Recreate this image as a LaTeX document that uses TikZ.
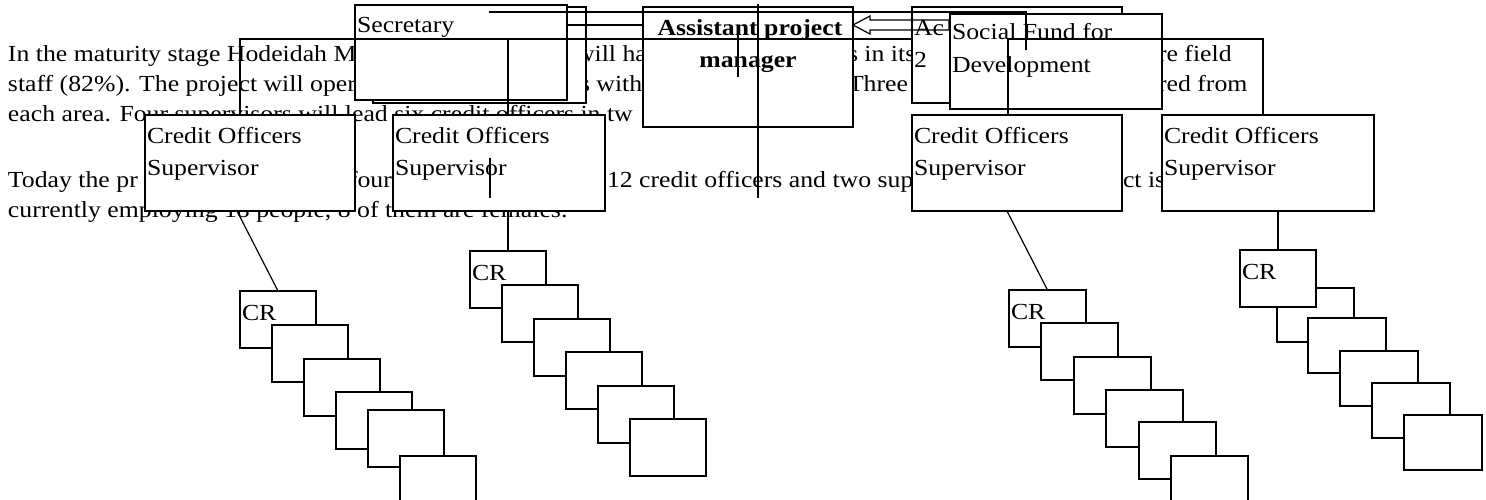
\documentclass[tikz,border=0pt]{standalone}
\usepackage{fontspec}
\setmainfont{Liberation Serif}[FakeStretch=1.12]
\usetikzlibrary{calc}
\newcommand\myfs{\fontsize{23}{30}\selectfont}
\begin{document}
\begin{tikzpicture}[x=1pt,y=-1pt,
  box/.style={draw, fill=white, line width=1.2pt, anchor=north west, inner sep=0pt, outer sep=0pt},
  txt/.style={anchor=base west, inner sep=0pt, outer sep=0pt, font=\myfs},
  btxt/.style={anchor=base, inner sep=0pt, outer sep=0pt, font=\myfs\bfseries},
  ln/.style={line width=1.2pt, line cap=rect},
  cr/.style={box, minimum width=76pt, minimum height=57pt}]
\useasboundingbox (0,0) rectangle (1486,499);
\clip (0,0) rectangle (1486,499);
% paragraph
\node[txt] (p1a) at (8,61) {In the maturity stage Hodeidah M};
\node[txt] (p1b) at (576,61) {will ha};
\node[txt] (p1c) at (848,61) {s in its};
\node[txt] (p1d) at (1158,61) {re field};
\node[txt] (p2a) at (8,91) {staff (82\%). The project will oper};
\node[txt] (p2b) at (580,91) {s with};
\node[txt] (p2c) at (848,91) {Three};
\node[txt] (p2d) at (1158,91) {red from};
\node[txt] (p3) at (8,121) {each area. Four supervisors will lead six credit officers in tw};
\node[txt] (p4a) at (8,187) {Today the pr};
\node[txt] (p4b) at (349,187) {four};
\node[txt] (p4c) at (607,187) {12 credit officers and two sup};
\node[txt] (p4d) at (1123,187) {ct is};
\node[txt] (p5) at (8,217) {currently employing 18 people, 8 of them are females.};
% top boxes
\coordinate (y20) at (0,20); \coordinate (y25) at (0,25);
\node[box, minimum width=213pt, minimum height=96pt] (secb) at (373,7) {};
\node[box, minimum width=212pt, minimum height=95pt] (sec) at (355,5) {};
\node[txt] (tsec) at ($(sec.north west)+(2,27)$) {Secretary};
\node[box, minimum width=210pt, minimum height=120pt] (apm) at (643,7) {};
\node[btxt] (tapm1) at ($(apm.north)+(2,28)$) {Assistant project};
\node[btxt] (tapm2) at ($(apm.north)+(0,60)$) {manager};
\node[box, minimum width=210pt, minimum height=96pt] (acc) at (912,7) {};
\node[txt] (tacc1) at ($(acc.north west)+(2,28)$) {Ac};
\node[txt] (tacc2) at ($(acc.north west)+(2,60)$) {2};
\coordinate (aA) at (apm.east |- y25);
\draw[ln] (aA) -- ++(17,-9) -- ++(0,4) -- ++(79,0) -- ++(0,10) -- ++(-79,0) -- ++(0,4) -- cycle;
\node[box, minimum width=212pt, minimum height=95pt] (sfd) at (950,14) {};
\node[txt] (tsfd1) at ($(sfd.north west)+(2,25)$) {Social Fund for};
\node[txt] (tsfd2) at ($(sfd.north west)+(2,58)$) {Development};
% supervisors
\node[box, minimum width=210pt, minimum height=96pt] (co1) at (145,115) {};
\node[box, minimum width=212pt, minimum height=96pt] (co2) at (393,115) {};
\node[box, minimum width=210pt, minimum height=96pt] (co3) at (912,115) {};
\node[box, minimum width=212pt, minimum height=96pt] (co4) at (1162,115) {};
\foreach \b in {co1,co2,co3,co4}{
  \node[txt] (\b t1) at ($(\b.north west)+(2,28)$) {Credit Officers};
  \node[txt] (\b t2) at ($(\b.north west)+(2,60)$) {Supervisor};
}
% connectors at top
\coordinate (j1) at (240,39); \coordinate (j2) at (508,39); \coordinate (jx) at (912,39);
\coordinate (j3) at (1008,39); \coordinate (j4) at (1263,39);
\draw[ln] (j1 |- co1.north) -- (j1) -- (jx);
\draw[ln] (j2) -- (j2 |- co2.north);
\draw[ln] (j3 |- co3.north) -- (j3) -- (j4) -- (j4 |- co4.north);
\coordinate (t1) at (490,12); \coordinate (t2) at (1026,12); \coordinate (t3) at (1026,49);
\draw[ln] (t1) -- (t2) -- (t3);
\draw[ln] (sec.east |- y25) -- (apm.west |- y25);
\coordinate (v1a) at (758,5); \coordinate (v1b) at (758,197);
\coordinate (v2a) at (738,28); \coordinate (v2b) at (738,76);
\coordinate (v3a) at (490,159); \coordinate (v3b) at (490,197);
\draw[ln] (v1a) -- (v1b);
\draw[ln] (v2a) -- (v2b);
\draw[ln] (v3a) -- (v3b);
% stack 1
\node[cr] (s1a) at (240,291) {};
\node[cr] (s1b) at (272,325) {};
\node[cr] (s1c) at (304,359) {};
\node[cr] (s1d) at (336,392) {};
\node[cr] (s1e) at (368,410) {};
\node[cr] (s1f) at (400,456) {};
% stack 2
\node[cr] (s2a) at (470,251) {};
\node[cr] (s2b) at (502,285) {};
\node[cr] (s2c) at (534,319) {};
\node[cr] (s2d) at (566,352) {};
\node[cr] (s2e) at (598,386) {};
\node[cr] (s2f) at (630,419) {};
% stack 3
\node[cr, minimum width=77pt] (s3a) at (1009,290) {};
\node[cr, minimum width=77pt] (s3b) at (1041,323) {};
\node[cr, minimum width=77pt] (s3c) at (1074,357) {};
\node[cr, minimum width=77pt] (s3d) at (1106,390) {};
\node[cr, minimum width=77pt] (s3e) at (1139,422) {};
\node[cr, minimum width=77pt] (s3f) at (1171,456) {};
% stack 4
\node[cr, minimum width=77pt, minimum height=54pt] (s4b) at (1277,288) {};
\node[cr] (s4a) at (1240,250) {};
\node[cr, minimum width=78pt, minimum height=55pt] (s4c) at (1308,318) {};
\node[cr, minimum width=78pt, minimum height=55pt] (s4d) at (1340,351) {};
\node[cr, minimum width=78pt, minimum height=55pt] (s4e) at (1372,383) {};
\node[cr, minimum width=78pt, minimum height=55pt] (s4f) at (1404,415) {};
\foreach \s in {s1a,s2a,s3a,s4a}{
  \node[txt] (\s t) at ($(\s.north west)+(2,29)$) {CR};
}
% stack connectors
\coordinate (c1) at (237,211); \coordinate (c3) at (1007,211);
\draw[ln] (c1) -- (s1a.north);
\draw[ln] (s2a.north |- co2.south) -- (s2a.north);
\draw[ln] (c3) -- (s3a.north);
\draw[ln] (s4a.north |- co4.south) -- (s4a.north);
\end{tikzpicture}
\end{document}
